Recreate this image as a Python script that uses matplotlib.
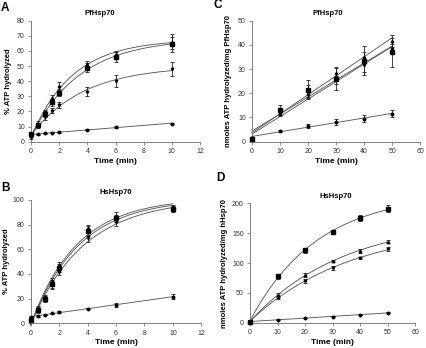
import numpy as np
import matplotlib
matplotlib.use("Agg")
import matplotlib.pyplot as plt

plt.rcParams['font.family'] = ['Liberation Sans', 'DejaVu Sans']

# ---------------- data ----------------
# Panel A: PfHsp70, % ATP hydrolyzed vs time (min)
tA = [0, 0.5, 1, 1.5, 2, 4, 6, 10]
A_sq = [5, 11, 18, 26, 32.5, 49, 56, 64.5]
A_sq_err = [1.5, 1.5, 2, 2.5, 2.5, 3, 3, 5]
A_up = [4, 12, 19.5, 29, 37, 51.5, 58, 66]
A_up_err = [1, 1.5, 1.5, 2, 2.5, 2, 2, 5]
A_dn = [3, 10, 16, 20.5, 24, 33, 40, 48]
A_dn_err = [1, 1, 1.5, 1.5, 2, 3, 4, 4.5]
A_lo = [4.5, 5, 5.5, 6, 6.5, 8, 9.5, 12]
A_lo_err = [0.4, 0.4, 0.4, 0.4, 0.5, 0.5, 0.6, 0.6]

# Panel B: HsHsp70, % ATP hydrolyzed
tB = [0, 0.5, 1, 1.5, 2, 4, 6, 10]
B_sq = [3, 11, 20, 32, 45, 75, 85, 93]
B_sq_err = [2, 2, 2, 3, 3, 4, 3, 2]
B_up = [4, 12, 21, 34, 47, 77, 87, 94]
B_up_err = [2, 2, 2, 3, 3, 3, 3, 2]
B_dn = [3, 10, 19, 31, 42, 69, 82, 92]
B_dn_err = [1.5, 1.5, 2, 3, 3, 3, 3, 2]
B_lo = [5, 6, 7, 8, 9, 12, 15, 21.5]
B_lo_err = [0.5, 0.5, 0.5, 0.5, 0.6, 0.8, 1.5, 2]

# Panel C: PfHsp70, nmoles ATP hydrolyzed/mg
tC = [0, 10, 20, 30, 40, 50]
C_sq = [1, 13, 21.5, 26, 33.5, 37]
C_sq_err = [0.5, 2, 4, 4.5, 6, 6]
C_up = [1.5, 12.5, 21, 28.5, 35, 41.5]
C_up_err = [0.5, 1.5, 2.5, 2.5, 2, 2.5]
C_dn = [1, 11.5, 19.5, 25.5, 31.5, 38.5]
C_dn_err = [0.5, 1, 1.5, 1.5, 2.5, 2]
C_lo = [1.5, 4.5, 6.5, 8.2, 9.5, 11.5]
C_lo_err = [0.3, 0.4, 0.7, 1.2, 1.5, 1.5]

# Panel D: HsHsp70, nmoles ATP hydrolyzed/mg
tD = [0, 10, 20, 30, 40, 50]
D_sq = [2, 78, 121, 152, 175, 191]
D_sq_err = [1, 4, 4, 4, 5, 6]
D_up = [2, 46, 80, 103, 120, 136]
D_up_err = [1, 3, 3, 2, 3, 3]
D_dn = [2, 42, 70, 92, 108, 123]
D_dn_err = [1, 3, 3, 3, 2, 3]
D_lo = [2, 5, 8, 10, 13, 17]
D_lo_err = [0.5, 0.5, 0.5, 0.5, 0.8, 1]


# ---------------- fits ----------------
def exp_fit(t, y):
    t = np.asarray(t, float); y = np.asarray(y, float)
    best = None
    for k in np.geomspace(1e-4, 10, 3000):
        X = np.column_stack([np.ones_like(t), 1 - np.exp(-k * t)])
        coef, *_ = np.linalg.lstsq(X, y, rcond=None)
        sse = np.sum((X @ coef - y) ** 2)
        if best is None or sse < best[0]:
            best = (sse, k, coef)
    _, k, (y0, a) = best
    return lambda x: y0 + a * (1 - np.exp(-k * x))


def lin_fit(t, y):
    p = np.polyfit(t, y, 1)
    return lambda x: np.polyval(p, x)


LINE = '#5a5a5a'
SPINE = '#808080'
W, H = 426, 348
fig = plt.figure(figsize=(W / 100, H / 100), dpi=100)


def draw(ax, t, series, fits, xmax, ymax, xstep, ystep, title, title_x,
         ylabel, letter, letter_xy, ylabel_x):
    xs = np.linspace(0, max(t), 200)
    for (y, e, mk, ms), fit in zip(series, fits):
        f = fit(t, y)
        ax.plot(xs, f(xs), color=LINE, lw=0.65, zorder=2, clip_on=False)
        ax.errorbar(t, y, yerr=e, fmt=mk, ms=ms, color='black', ecolor='#222222',
                    elinewidth=0.6, capsize=1.2, capthick=0.6, zorder=3, clip_on=False)
    ax.set_xlim(0, xmax)
    ax.set_ylim(0, ymax)
    ax.set_xticks(np.arange(0, xmax + 0.001, xstep))
    ax.set_yticks(np.arange(0, ymax + 0.001, ystep))
    for s in ['top', 'right']:
        ax.spines[s].set_visible(False)
    for s in ['left', 'bottom']:
        ax.spines[s].set_color(SPINE)
        ax.spines[s].set_linewidth(0.7)
    ax.tick_params(direction='out', length=2.5, width=0.6, color=SPINE,
                   labelsize=5, labelcolor='#333333', pad=2)
    ax.set_xlabel('Time (min)', fontsize=6, fontweight='bold', labelpad=2)
    ax.text(title_x, 1.03, title, transform=ax.transAxes, fontsize=5.5,
            fontweight='bold', ha='center', va='bottom')
    fig.text(ylabel_x, ax.get_position().y0 + ax.get_position().height / 2, ylabel,
             rotation=90, fontsize=5.5, fontweight='bold', ha='center', va='center')
    fig.text(letter_xy[0], letter_xy[1], letter, fontsize=8.5, fontweight='bold',
             ha='left', va='center')


def box(x0, x1, ytop, ybot):
    return [x0 / W, (H - ybot) / H, (x1 - x0) / W, (ybot - ytop) / H]


axA = fig.add_axes(box(31, 200, 20.7, 141.7))
axC = fig.add_axes(box(252, 420.3, 20.7, 141.7))
axB = fig.add_axes(box(30.7, 201.3, 200, 323.3))
axD = fig.add_axes(box(250, 415, 203.3, 322.7))

SQ, SM = 3.0, 1.8
draw(axA, tA,
     [(A_sq, A_sq_err, 's', SQ), (A_up, A_up_err, '^', SM),
      (A_dn, A_dn_err, 'v', SM), (A_lo, A_lo_err, 'o', SM)],
     [exp_fit, exp_fit, exp_fit, lin_fit],
     12, 80, 2, 10, 'PfHsp70', 0.41, '% ATP hydrolyzed', 'A',
     (1 / W, 1 - 8 / H), 9 / W)
draw(axB, tB,
     [(B_sq, B_sq_err, 's', SQ), (B_up, B_up_err, '^', SM),
      (B_dn, B_dn_err, 'v', SM), (B_lo, B_lo_err, 'o', SM)],
     [exp_fit, exp_fit, exp_fit, lin_fit],
     12, 100, 2, 20, 'HsHsp70', 0.5, '% ATP hydrolyzed', 'B',
     (1 / W, 1 - 188 / H), 7 / W)
draw(axC, tC,
     [(C_sq, C_sq_err, 's', SQ), (C_up, C_up_err, '^', SM),
      (C_dn, C_dn_err, 'v', SM), (C_lo, C_lo_err, 'o', SM)],
     [lin_fit, lin_fit, lin_fit, lin_fit],
     60, 50, 10, 10, 'PfHsp70', 0.45, 'nmoles ATP hydrolyzed/mg PfHsp70', 'C',
     (213 / W, 1 - 5 / H), 229 / W)
draw(axD, tD,
     [(D_sq, D_sq_err, 's', SQ), (D_up, D_up_err, '^', SM),
      (D_dn, D_dn_err, 'v', SM), (D_lo, D_lo_err, 'o', SM)],
     [exp_fit, exp_fit, exp_fit, lin_fit],
     60, 200, 10, 50, 'HsHsp70', 0.52, 'nmoles ATP hydrolyzed/mg hHsp70', 'D',
     (216 / W, 1 - 178 / H), 224 / W)

fig.savefig('out.png', dpi=100)
